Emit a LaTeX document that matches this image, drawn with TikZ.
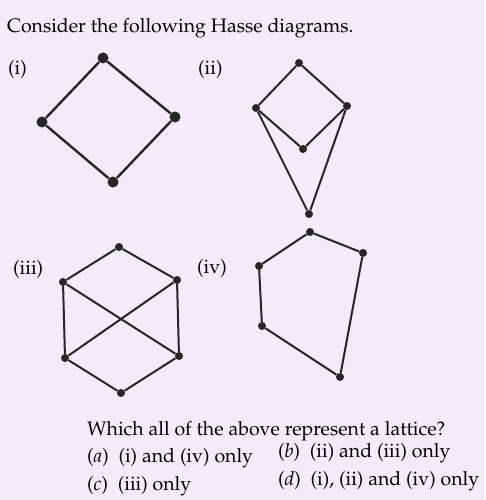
\documentclass[tikz,border=0pt]{standalone}
\usepackage[T1]{fontenc}
\usepackage{mathpazo}
\usepackage{xcolor}
\usepackage{tikz}
\usetikzlibrary{positioning}
\definecolor{PaperLilac}{HTML}{F3EBF8}
\definecolor{InkGray}{HTML}{262626}

\begin{document}
\begin{tikzpicture}[x=1pt, y=-1pt,
  bigdot/.style={circle, fill=InkGray, inner sep=0pt, minimum size=11pt},
  dot/.style={circle, fill=InkGray, inner sep=0pt, minimum size=8pt},
  edge/.style={draw=InkGray, line width=2pt},
  txt/.style={anchor=base west, inner sep=0pt, font=\fontsize{19.5}{23}\selectfont, text=black}]
\fill[PaperLilac] (0,0) rectangle (485,500);
\useasboundingbox (0,0) rectangle (485,500);
\node[txt] (title) at (7,33) {Consider the following Hasse diagrams.};
% (i)
\node[txt] (li) at (8,75) {(i)};
\node[bigdot] (a1) at (103,58) {};
\node[bigdot] (a2) at (42,122) {};
\node[bigdot] (a3) at (175,117) {};
\node[bigdot] (a4) at (113,182) {};
\draw[edge, line width=2.4pt] (a1) -- (a2) -- (a4) -- (a3) -- (a1);
% (ii)
\node[txt] (lii) at (198,75) {(ii)};
\node[dot] (b1) at (299,63) {};
\node[dot] (b2) at (256,108) {};
\node[dot] (b3) at (347,106) {};
\node[dot] (b4) at (303,149) {};
\node[dot] (b5) at (309,214) {};
\draw[edge] (b1) -- (b2) -- (b4) -- (b3) -- (b1);
\draw[edge] (b2) -- (b5) -- (b3);
% (iii)
\node[txt] (liii) at (13,274) {(iii)};
\node[dot] (c1) at (119,247) {};
\node[dot] (c2) at (63,282) {};
\node[dot] (c3) at (177,280) {};
\node[dot] (c4) at (65,358) {};
\node[dot] (c5) at (179,356) {};
\node[dot] (c6) at (121,393) {};
\draw[edge] (c1) -- (c2) -- (c4) -- (c6) -- (c5) -- (c3) -- (c1);
\draw[edge] (c2) -- (c5);
\draw[edge] (c3) -- (c4);
% (iv)
\node[txt] (liv) at (197,273) {(iv)};
\node[dot] (d1) at (310,232) {};
\node[dot] (d2) at (363,253) {};
\node[dot] (d3) at (259,266) {};
\node[dot] (d4) at (262,326) {};
\node[dot] (d5) at (340,377) {};
\draw[edge] (d1) -- (d2) -- (d5) -- (d4) -- (d3) -- (d1);
% question
\node[txt] (q) at (87,435) {Which all of the above represent a lattice?};
\node[txt] (oa) at (87,462) {(\textit{a})\ \ (i) and (iv) only};
\node[txt] (ob) at (278,457) {(\textit{b})\ \ (ii) and (iii) only};
\node[txt] (oc) at (87,490) {(\textit{c})\ \ (iii) only};
\node[txt] (od) at (278,485) {(\textit{d})\ \ (i), (ii) and (iv) only};
\end{tikzpicture}
\end{document}
